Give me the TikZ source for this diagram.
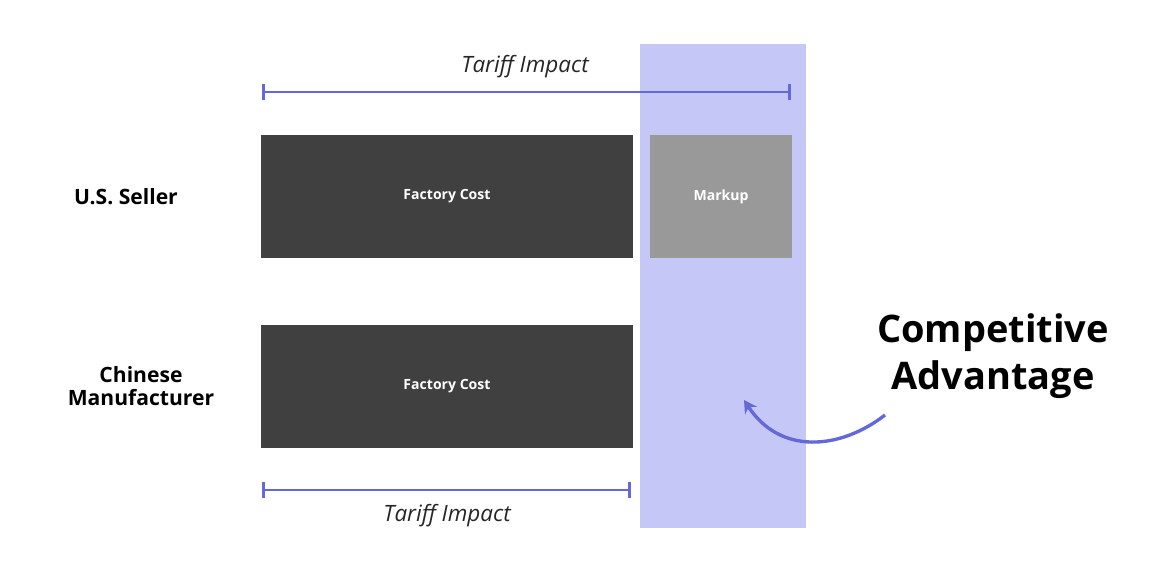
\documentclass[tikz,border=0pt]{standalone}
\usepackage{fontspec}
\setmainfont{Open Sans}
\usetikzlibrary{arrows.meta}
\definecolor{bandblue}{HTML}{C5C8F7}
\definecolor{lineblue}{HTML}{6468D8}
\definecolor{darkbox}{HTML}{404040}
\definecolor{graybox}{HTML}{999999}
\tikzset{
  costbox/.style={fill=darkbox, draw=none, text=white, font=\fontsize{10}{12}\selectfont\bfseries},
  rowlabel/.style={font=\fontsize{15}{18}\selectfont\bfseries, align=center},
  bracket/.style={draw=lineblue, line width=1.8pt, {Bar[width=11pt]}-{Bar[width=11pt]}},
  tarifflabel/.style={font=\fontsize{16}{19}\selectfont\itshape, text=black!85}
}
\begin{document}
\begin{tikzpicture}[x=0.025cm, y=-0.025cm]

    % Canvas
    \useasboundingbox (0,0) rectangle (1160,582);

    % Highlight band
    \fill[bandblue] (640,44) rectangle (806,528);

    % Cost bars
    \node[costbox, minimum width=372*0.025cm, minimum height=123*0.025cm] (usfc) at (447,196.5) {Factory Cost};
    \node[costbox, fill=graybox, minimum width=142*0.025cm, minimum height=123*0.025cm] (markup) at (721,196.5) {Markup};
    \node[costbox, minimum width=372*0.025cm, minimum height=123*0.025cm] (cnfc) at (447,386.5) {Factory Cost};

    % Row labels
    \node[rowlabel] (seller) at (126,197) {U.S. Seller};
    \node[rowlabel] (maker) at (141,386) {Chinese\\[-2pt]Manufacturer};

    % Tariff brackets
    \coordinate (ta) at (262,92);
    \coordinate (tb) at (791,92);
    \draw[bracket] (ta) -- (tb);
    \node[tarifflabel] (toplab) at (525,67) {Tariff Impact};
    \coordinate (ba) at (262,490);
    \coordinate (bb) at (631,490);
    \draw[bracket] (ba) -- (bb);
    \node[tarifflabel] (botlab) at (447,516) {Tariff Impact};

    % Advantage note
    \node[font=\fontsize{27}{33}\selectfont\bfseries, align=center] (adv) at (993,356) {Competitive\\Advantage};
    \coordinate (arrstart) at (885,415);
    \coordinate (arrend) at (744,400);
    \draw[lineblue, line width=2.4pt, -{Stealth[length=9pt, width=10pt]}]
        (arrstart) .. controls (840,450) and (780,455) .. (arrend);

\end{tikzpicture}
\end{document}
